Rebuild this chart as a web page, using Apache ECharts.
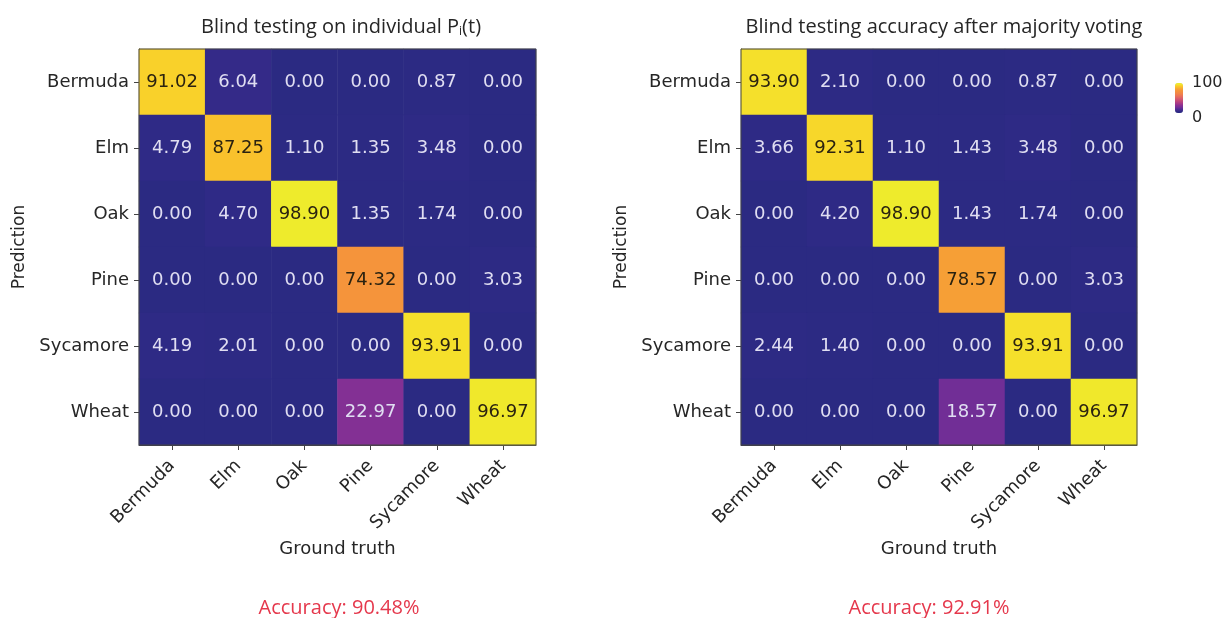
<!DOCTYPE html>
<html>
<head>
<meta charset="utf-8">
<script src="https://cdn.jsdelivr.net/npm/echarts@6/dist/echarts.min.js"></script>
<style>html,body{margin:0;padding:0;background:#fff}#c{width:1229px;height:618px}</style>
</head>
<body>
<div id="c"></div>
<script>
const classes = ['Bermuda', 'Elm', 'Oak', 'Pine', 'Sycamore', 'Wheat'];
// rows = prediction, columns = ground truth
const individual = [
  [91.02, 6.04, 0.00, 0.00, 0.87, 0.00],
  [4.79, 87.25, 1.10, 1.35, 3.48, 0.00],
  [0.00, 4.70, 98.90, 1.35, 1.74, 0.00],
  [0.00, 0.00, 0.00, 74.32, 0.00, 3.03],
  [4.19, 2.01, 0.00, 0.00, 93.91, 0.00],
  [0.00, 0.00, 0.00, 22.97, 0.00, 96.97]
];
const majority = [
  [93.90, 2.10, 0.00, 0.00, 0.87, 0.00],
  [3.66, 92.31, 1.10, 1.43, 3.48, 0.00],
  [0.00, 4.20, 98.90, 1.43, 1.74, 0.00],
  [0.00, 0.00, 0.00, 78.57, 0.00, 3.03],
  [2.44, 1.40, 0.00, 0.00, 93.91, 0.00],
  [0.00, 0.00, 0.00, 18.57, 0.00, 96.97]
];
const accuracyLeft = 'Accuracy: 90.48%';
const accuracyRight = 'Accuracy: 92.91%';
const colorbarTicks = ['100', '0'];

const cmap = ['#2b2a82','#2f2a86','#452b8f','#5e2c95','#782f96','#8a3092','#a0378a','#b23f82','#c2497a','#d05571','#dc6268','#e66e5d','#ed7a52','#f18548','#f38d3f','#f5953a','#f7a334','#f8b82e','#facb2a','#f3e62b','#ecec2c'];

function toData(m) {
  const out = [];
  m.forEach((row, r) => row.forEach((v, c) => {
    out.push({ value: [c, r, v], label: { color: v > 50 ? '#2a2210' : '#e0def2' } });
  }));
  return out;
}

const G = [
  { left: 139, top: 49, width: 397, height: 396 },
  { left: 741, top: 49, width: 396, height: 396 }
];
const tickFont = { fontFamily: 'DejaVu Sans', fontSize: 18, color: '#262626' };

function xAx(i) {
  return {
    type: 'category', gridIndex: i, data: classes,
    axisLine: { show: true, lineStyle: { color: '#444', width: 1 } },
    axisTick: { show: true, alignWithLabel: true, length: 5, lineStyle: { color: '#444' } },
    axisLabel: Object.assign({ rotate: 45, margin: 18, interval: 0 }, tickFont),
    splitLine: { show: false },
    name: 'Ground truth', nameLocation: 'middle', nameGap: 95,
    nameTextStyle: { fontFamily: 'DejaVu Sans', fontSize: 18, color: '#262626' }
  };
}
function yAx(i) {
  return {
    type: 'category', gridIndex: i, data: classes, inverse: true,
    axisLine: { show: true, lineStyle: { color: '#444', width: 1 } },
    axisTick: { show: true, alignWithLabel: true, length: 5, lineStyle: { color: '#444' } },
    axisLabel: Object.assign({ margin: 10, interval: 0 }, tickFont),
    splitLine: { show: false },
    name: 'Prediction', nameLocation: 'middle', nameGap: 111, nameRotate: 90,
    nameTextStyle: { fontFamily: 'DejaVu Sans', fontSize: 17, color: '#262626' }
  };
}
function heat(i, m) {
  return {
    type: 'heatmap', xAxisIndex: i, yAxisIndex: i, data: toData(m),
    label: { show: true, fontFamily: 'DejaVu Sans', fontSize: 18, formatter: p => p.value[2].toFixed(2) },
    itemStyle: { borderWidth: 0 },
    emphasis: { disabled: true }
  };
}

const chart = echarts.init(document.getElementById('c'), null, { renderer: 'canvas' });
chart.setOption({
  backgroundColor: '#fff',
  animation: false,
  title: [
    { text: 'Blind testing on individual P{s|i}(t)', left: 336, top: 12, textAlign: 'center',
      textStyle: { fontFamily: 'Open Sans', fontSize: 20, fontWeight: 'normal', color: '#262626',
        rich: { s: { fontFamily: 'Open Sans', fontSize: 12, color: '#262626', verticalAlign: 'bottom', padding: [9, 0, 0, 0] } } } },
    { text: 'Blind testing accuracy after majority voting', left: 939, top: 12, textAlign: 'center',
      textStyle: { fontFamily: 'Open Sans', fontSize: 20, fontWeight: 'normal', color: '#262626' } },
    { text: accuracyLeft, left: 334, top: 593, textAlign: 'center',
      textStyle: { fontFamily: 'Open Sans', fontSize: 20, fontWeight: 'normal', color: '#e5384c' } },
    { text: accuracyRight, left: 924, top: 593, textAlign: 'center',
      textStyle: { fontFamily: 'Open Sans', fontSize: 20, fontWeight: 'normal', color: '#e5384c' } }
  ],
  grid: G,
  xAxis: [xAx(0), xAx(1)],
  yAxis: [yAx(0), yAx(1)],
  visualMap: {
    type: 'continuous', min: 0, max: 100, calculable: false, seriesIndex: [0, 1],
    orient: 'vertical', left: 1175, top: 83, itemWidth: 8, itemHeight: 30,
    text: null, showLabel: false, padding: 0,
    inRange: { color: cmap }
  },
  graphic: [
    { type: 'rect', z: 100, silent: true, shape: { x: G[0].left, y: G[0].top, width: G[0].width, height: G[0].height }, style: { fill: null, stroke: '#444', lineWidth: 1 } },
    { type: 'rect', z: 100, silent: true, shape: { x: G[1].left, y: G[1].top, width: G[1].width, height: G[1].height }, style: { fill: null, stroke: '#444', lineWidth: 1 } },
    { type: 'text', left: 1192, top: 75, style: { text: colorbarTicks[0], fontFamily: 'DejaVu Sans', fontSize: 16, fill: '#262626' } },
    { type: 'text', left: 1192, top: 110, style: { text: colorbarTicks[1], fontFamily: 'DejaVu Sans', fontSize: 16, fill: '#262626' } }
  ],
  series: [heat(0, individual), heat(1, majority)]
});
</script>
</body>
</html>
